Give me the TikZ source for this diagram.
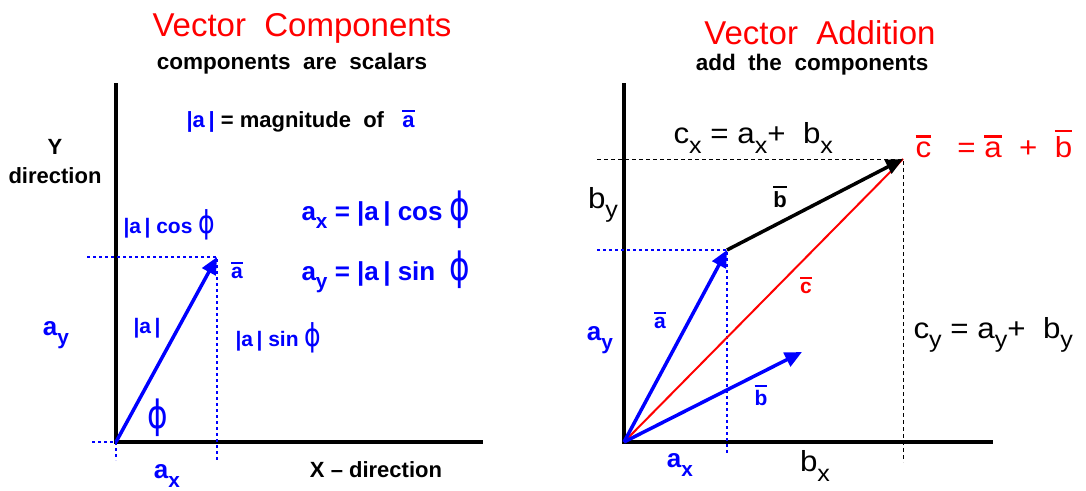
\documentclass[tikz,border=0pt]{standalone}
\usepackage{fontspec}
\setmainfont{Liberation Sans}
\newfontfamily\widesans[FakeStretch=1.08]{Liberation Sans}
\newfontfamily\phifont{DejaVu Sans}
\usetikzlibrary{arrows.meta}
\newcommand{\ovl}[1]{\vbox{\hrule height .09em \kern .16em \hbox{#1}}}
\newcommand{\lsub}[1]{\raisebox{-.32em}{\scalebox{.8}{#1}}}
\newcommand{\fphi}{\scalebox{1.2}[1.5]{\phifont\mdseries\char"0278}}

\begin{document}
\begin{tikzpicture}[
  x=1pt, y=-1pt,
  ttl/.style={text=red, font=\fontsize{33}{37}\selectfont},
  subttl/.style={font=\bfseries\fontsize{22.5}{26}\selectfont},
  kb/.style={font=\bfseries\fontsize{22}{29}\selectfont, align=center},
  kl/.style={font=\widesans\fontsize{29}{33}\selectfont},
  rl/.style={text=red, font=\widesans\fontsize{29}{33}\selectfont},
  bl/.style={text=blue, font=\bfseries\fontsize{21}{25}\selectfont},
  big/.style={text=blue, font=\bfseries\fontsize{26}{30}\selectfont},
  axis/.style={line width=4pt},
  vec/.style={line width=3.5pt, -{Triangle[length=17pt,width=15pt]}},
  bdot/.style={blue, line width=2pt, dash pattern=on 3pt off 3pt},
  kdash/.style={line width=1pt, dash pattern=on 4pt off 3pt},
]
\useasboundingbox (0,0) rectangle (1086,490);
\coordinate (o1) at (116,442);
\coordinate (ytop1) at (116,83);
\coordinate (xend1) at (483,442);
\coordinate (a1) at (217,257);
\coordinate (hl1) at (87,257);
\coordinate (vl1) at (217,460);
\coordinate (ol1) at (92,442);
\coordinate (od1) at (116,460);
\draw[axis] (ytop1) |- (xend1);
\draw[bdot] (hl1) -- (a1) -- (vl1);
\draw[bdot] (ol1) -- (o1) -- (od1);
\draw[vec, blue] (o1) -- (a1);
\node[ttl] (t1) at (302,28) {Vector\ \ Components};
\node[subttl] (s1) at (292,64) {components\ \ are\ \ scalars};
\node[kb, anchor=west] (mag) at (183,121) {\textcolor{blue}{|a\,|} = magnitude\ \ of\ \ \ \textcolor{blue}{\ovl{a}}};
\node[kb] (ydir) at (55,162) {Y\\direction};
\node[bl, anchor=west] (acos) at (120,225) {|a\,| cos \fphi};
\node[big, anchor=west] (axeq) at (298,210) {a\lsub{x} = |a\,| cos \fphi};
\node[big, anchor=west] (ayeq) at (298,272) {a\lsub{y} = |a\,| sin\ \ \fphi};
\node[bl] (abar1) at (237,270) {\ovl{a}};
\node[bl] (amag) at (147,328) {|a\,|};
\node[bl, anchor=west] (asin) at (232,338) {|a\,| sin \fphi};
\node[big] (ay1) at (56,335) {a\lsub{y}};
\node[big] (phi1) at (158,418) {\fphi};
\node[big] (ax1) at (167,476) {a\lsub{x}};
\node[kb] (xdir) at (376,470) {X \textendash\ direction};
\coordinate (o2) at (624,442);
\coordinate (ytop2) at (624,83);
\coordinate (xend2) at (993,442);
\coordinate (a2) at (727,250);
\coordinate (b2) at (802,352);
\coordinate (c2) at (903,159);
\coordinate (hl2) at (597,250);
\coordinate (vl2) at (727,455);
\coordinate (hc2) at (597,159);
\coordinate (vc2) at (903,462);
\draw[axis] (ytop2) |- (xend2);
\draw[bdot] (hl2) -- (a2) -- (vl2);
\draw[kdash] (hc2) -- (c2) -- (vc2);
\draw[red, line width=2pt] (o2) -- (c2);
\draw[vec] (a2) -- (c2);
\draw[vec, blue] (o2) -- (a2);
\draw[vec, blue] (o2) -- (b2);
\node[ttl] (t2) at (820,33) {Vector\ \ Addition};
\node[subttl] (s2) at (812,65) {add\ \ the\ \ components};
\node[kl, anchor=west] (cxeq) at (670,138) {c\lsub{x} = a\lsub{x}+\ \ b\lsub{x}};
\node[rl, anchor=west] (ceq) at (912,144) {\ovl{c}\ \ \ = \ovl{a}\ \ +\ \ \ovl{b}};
\node[kl] (by) at (603,205) {b\lsub{y}};
\node[kb] (bbar1) at (780,197) {\ovl{b}};
\node[bl, text=red] (cbar) at (806,285) {\ovl{c}};
\node[bl] (abar2) at (660,320) {\ovl{a}};
\node[big] (ay2) at (600,340) {a\lsub{y}};
\node[kl, anchor=west] (cyeq) at (910,335) {c\lsub{y} = a\lsub{y}+\ \ b\lsub{y}};
\node[bl] (bbar2) at (761,395) {\ovl{b}};
\node[big] (ax2) at (680,465) {a\lsub{x}};
\node[kl] (bx) at (815,466) {b\lsub{x}};
\end{tikzpicture}
\end{document}
